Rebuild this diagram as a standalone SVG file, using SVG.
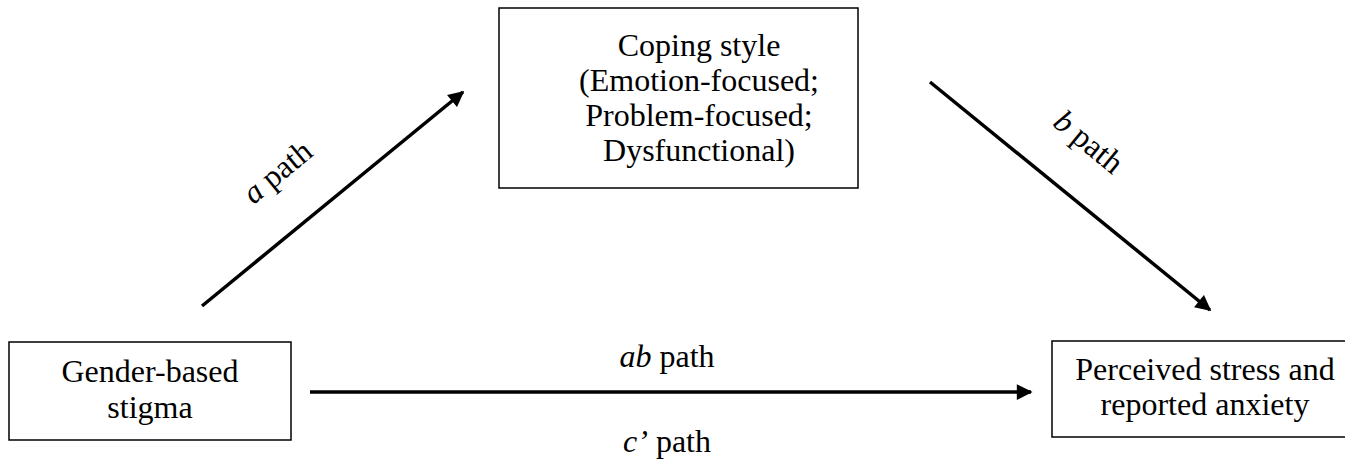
<svg xmlns="http://www.w3.org/2000/svg" width="1345" height="464" viewBox="0 0 1345 464">
<style>
.box{fill:#fff;stroke:#000;stroke-width:1.5}
.t{font-family:"Liberation Serif","Times New Roman",serif;font-size:32px;fill:#000;text-anchor:middle}
.l{font-family:"Liberation Serif","Times New Roman",serif;font-size:32px;fill:#000;text-anchor:middle}
.conn{stroke:#000;stroke-width:3.5;fill:none;marker-end:url(#ah)}
</style>
<defs>
<marker id="ah" viewBox="0 0 10 10" refX="9" refY="5" markerWidth="5" markerHeight="4.5" orient="auto" markerUnits="strokeWidth">
<path d="M0,0 L10,5 L0,10 z" fill="#000"/>
</marker>
</defs>
<g id="node-coping">
<rect class="box" x="499" y="8" width="359" height="180"/>
<text class="t" x="699" y="56">Coping style</text>
<text class="t" x="699" y="91">(Emotion-focused;</text>
<text class="t" x="699" y="126">Problem-focused;</text>
<text class="t" x="699" y="161">Dysfunctional)</text>
</g>
<g id="node-stigma">
<rect class="box" x="9" y="342" width="282" height="98"/>
<text class="t" x="150" y="382">Gender-based</text>
<text class="t" x="150" y="418">stigma</text>
</g>
<g id="node-stress">
<rect class="box" x="1052" y="341" width="306" height="96"/>
<text class="t" x="1205" y="380">Perceived stress and</text>
<text class="t" x="1205" y="415">reported anxiety</text>
</g>
<g id="connectors">
<line class="conn" x1="202" y1="306" x2="463" y2="92"/>
<line class="conn" x1="930" y1="82" x2="1210" y2="310"/>
<line class="conn" x1="310" y1="392" x2="1031" y2="392"/>
</g>
<g id="labels">
<text class="l" transform="translate(284,180) rotate(-39.5)"><tspan font-style="italic">a</tspan> path</text>
<text class="l" transform="translate(1082,150) rotate(39.5)"><tspan font-style="italic">b</tspan> path</text>
<text class="l" x="667" y="367"><tspan font-style="italic">ab</tspan> path</text>
<text class="l" x="667" y="452"><tspan font-style="italic">c’</tspan> path</text>
</g>
</svg>
